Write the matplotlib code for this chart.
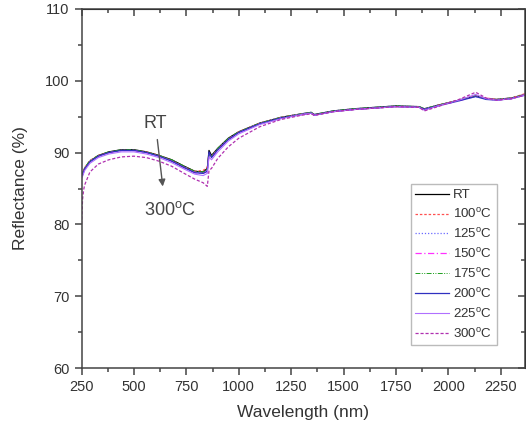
import numpy as np
import matplotlib
matplotlib.use("Agg")
import matplotlib.pyplot as plt
from matplotlib.ticker import MultipleLocator

# === DATA ===
wavelength = [250, 255, 260, 265, 290, 330, 380, 440, 500, 560, 620, 680, 740, 790, 830, 850, 858, 870,
              900, 950, 1000, 1100, 1200, 1300, 1345, 1360, 1450, 1550, 1650, 1750, 1860, 1885,
              1950, 2050, 2130, 2180, 2230, 2300, 2365]

r_rt = [86.8, 87.1, 87.5, 87.8, 88.8, 89.6, 90.1, 90.4, 90.4, 90.1, 89.6, 89.0, 88.1, 87.4, 87.3, 87.8, 90.3, 89.6,
        90.6, 92.0, 92.9, 94.1, 94.9, 95.4, 95.6, 95.3, 95.8, 96.1, 96.3, 96.5, 96.4, 96.1,
        96.6, 97.3, 97.9, 97.5, 97.4, 97.6, 98.1]
r_100 = [86.9, 87.2, 87.5, 87.9, 88.9, 89.6, 90.0, 90.3, 90.3, 90.1, 89.6, 88.9, 88.0, 87.4, 87.5, 88.0, 89.8, 89.5,
         90.5, 91.9, 92.9, 94.1, 94.9, 95.4, 95.5, 95.2, 95.7, 96.0, 96.2, 96.4, 96.4, 96.0,
         96.6, 97.3, 97.9, 97.6, 97.4, 97.6, 98.2]
r_125 = [86.7, 87.0, 87.4, 87.8, 88.8, 89.5, 90.0, 90.3, 90.3, 90.0, 89.5, 88.9, 88.0, 87.3, 87.2, 87.6, 89.9, 89.4,
         90.5, 91.9, 92.8, 94.1, 94.9, 95.4, 95.6, 95.3, 95.8, 96.1, 96.3, 96.5, 96.4, 96.1,
         96.6, 97.3, 97.8, 97.5, 97.4, 97.6, 98.0]
r_150 = [86.6, 86.9, 87.3, 87.7, 88.7, 89.5, 90.0, 90.3, 90.3, 90.0, 89.5, 88.8, 87.9, 87.2, 87.1, 87.4, 89.6, 89.3,
         90.4, 91.8, 92.8, 94.0, 94.8, 95.3, 95.5, 95.2, 95.7, 96.0, 96.2, 96.4, 96.3, 96.0,
         96.5, 97.2, 97.9, 97.5, 97.3, 97.5, 98.1]
r_175 = [86.8, 87.1, 87.5, 87.9, 88.9, 89.6, 90.1, 90.4, 90.4, 90.1, 89.6, 89.0, 88.1, 87.4, 87.3, 87.7, 89.7, 89.5,
         90.6, 92.0, 92.9, 94.1, 94.9, 95.4, 95.6, 95.3, 95.8, 96.1, 96.3, 96.5, 96.4, 96.1,
         96.6, 97.3, 97.9, 97.5, 97.4, 97.6, 98.1]
r_200 = [86.6, 86.9, 87.3, 87.7, 88.7, 89.5, 90.0, 90.3, 90.3, 90.0, 89.5, 88.8, 87.9, 87.2, 87.1, 87.4, 90.1, 89.3,
         90.4, 91.8, 92.8, 94.0, 94.8, 95.3, 95.5, 95.2, 95.7, 96.0, 96.2, 96.4, 96.3, 96.0,
         96.5, 97.2, 97.8, 97.4, 97.3, 97.5, 98.0]
r_225 = [86.4, 86.7, 87.1, 87.5, 88.5, 89.3, 89.8, 90.1, 90.1, 89.8, 89.3, 88.6, 87.7, 87.0, 86.8, 87.1, 89.4, 89.0,
         90.1, 91.6, 92.6, 93.9, 94.7, 95.3, 95.5, 95.2, 95.7, 96.0, 96.2, 96.4, 96.3, 95.9,
         96.5, 97.3, 98.1, 97.5, 97.3, 97.5, 98.0]
r_300 = [80.0, 83.5, 84.8, 85.5, 87.3, 88.4, 89.0, 89.4, 89.5, 89.3, 88.8, 88.1, 87.1, 86.3, 85.8, 85.3, 87.5, 87.8,
         89.2, 90.8, 92.0, 93.6, 94.6, 95.2, 95.4, 95.2, 95.7, 96.0, 96.2, 96.4, 96.3, 95.8,
         96.4, 97.4, 98.4, 97.6, 97.3, 97.5, 98.0]

labels = ["RT", "100$^{\\rm o}$C", "125$^{\\rm o}$C", "150$^{\\rm o}$C", "175$^{\\rm o}$C",
          "200$^{\\rm o}$C", "225$^{\\rm o}$C", "300$^{\\rm o}$C"]
series = [r_rt, r_100, r_125, r_150, r_175, r_200, r_225, r_300]
colors = ["black", "#ff5050", "#6a6aff", "#ff30ff", "#20a020", "#3030c0", "#b070ff", "#b030b0"]
styles = ["-", (0, (2, 1.5)), (0, (1, 1.5)), (0, (5, 2, 1, 2)), (0, (5, 1.5, 1, 1.5, 1, 1.5)),
          "-", "-", (0, (2.5, 1.5))]
widths = [0.9, 0.9, 0.9, 0.9, 0.7, 0.9, 0.8, 0.9]

plt.rcParams['font.family'] = ['Liberation Sans', 'DejaVu Sans']
plt.rcParams['mathtext.fontset'] = 'custom'
plt.rcParams['mathtext.rm'] = 'Liberation Sans'

fig = plt.figure(figsize=(5.26, 4.26), dpi=100)
ax = fig.add_axes([0.155, 0.136, 0.843, 0.843])

for y, lab, c, ls, lw in zip(series, labels, colors, styles, widths):
    ax.plot(wavelength, y, color=c, linestyle=ls, linewidth=lw, label=lab)

ax.set_xlim(250, 2365)
ax.set_ylim(60, 110)
ax.xaxis.set_major_locator(MultipleLocator(250))
ax.xaxis.set_minor_locator(MultipleLocator(125))
ax.yaxis.set_major_locator(MultipleLocator(10))
ax.yaxis.set_minor_locator(MultipleLocator(5))

txt = "#333333"
for s in ax.spines.values():
    s.set_color("#444444")
    s.set_linewidth(1.1)
ax.tick_params(which='both', direction='out', colors="#444444", labelcolor=txt, labelsize=10.5, width=1.1)
ax.tick_params(which='major', length=5)
ax.tick_params(which='minor', length=3)

# inward ticks on the top and right spines
sec_x = ax.secondary_xaxis('top')
sec_x.xaxis.set_major_locator(MultipleLocator(250))
sec_x.xaxis.set_minor_locator(MultipleLocator(125))
sec_x.tick_params(which='both', direction='in', labeltop=False, colors="#444444", width=1.1)
sec_x.tick_params(which='major', length=5)
sec_x.tick_params(which='minor', length=3)
sec_y = ax.secondary_yaxis('right')
sec_y.yaxis.set_major_locator(MultipleLocator(10))
sec_y.yaxis.set_minor_locator(MultipleLocator(5))
sec_y.tick_params(which='both', direction='in', labelright=False, colors="#444444", width=1.1)
sec_y.tick_params(which='major', length=5)
sec_y.tick_params(which='minor', length=3)

ax.set_xlabel("Wavelength (nm)", fontsize=12.5, color=txt, labelpad=8)
ax.set_ylabel("Reflectance (%)", fontsize=12.5, color=txt, labelpad=12)

ax.annotate("", xy=(639, 84.9), xytext=(610, 92.2),
            arrowprops=dict(arrowstyle="-|>", color="#555555", lw=1.0, mutation_scale=10))
ax.text(600, 94.1, "RT", fontsize=13, color="#444444", ha="center", va="center")
ax.text(672, 82.0, "300$^{\\rm o}$C", fontsize=13, color="#444444", ha="center", va="center")

leg = ax.legend(loc="lower right", bbox_to_anchor=(0.937, 0.064), borderaxespad=0,
                fontsize=9.6, frameon=True, fancybox=False, handlelength=2.5,
                labelspacing=0.44, handletextpad=0.35, borderpad=0.35)
leg.get_frame().set_edgecolor("#aaaaaa")
leg.get_frame().set_linewidth(1.0)
for t in leg.get_texts():
    t.set_color(txt)

fig.savefig("out.png", dpi=100)
